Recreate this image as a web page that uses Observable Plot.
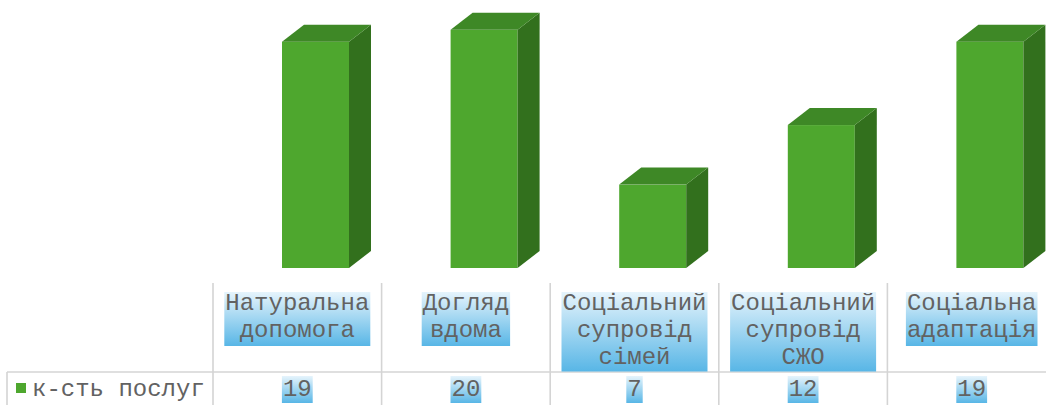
<!DOCTYPE html>
<html><head><meta charset="utf-8">
<script src="https://cdn.jsdelivr.net/npm/d3@7"></script>
<script src="https://cdn.jsdelivr.net/npm/@observablehq/plot@0.6"></script>
<style>html,body{margin:0;padding:0;background:#fff;} svg{display:block}</style>
</head><body><div id="chart"></div>
<script>
// ---- data ----
const categories = ["Натуральна\nдопомога", "Догляд\nвдома", "Соціальний\nсупровід\nсімей", "Соціальний\nсупровід\nСЖО", "Соціальна\nадаптація"];
const values = [19, 20, 7, 12, 19];
const seriesName = "к-сть послуг";

const data = categories.map((c, i) => ({cat: c, value: values[i]}));

// ---- style ----
const FONT = "'Liberation Mono', 'Courier New', monospace";
const FS = 24, CW = FS * 0.6, LH = 27;
const TXT = "#626262";
const GRID = "#d4d4d4";
const FRONT = "#4ea72e", TOP = "#3e8826", SIDE = "#32701d";
const INSET_L = 69, FRONT_W = 67, DEPTH_X = 22, DEPTH_Y = -17;

function bandwidth(scales) {
  return scales.x(data[1].cat) - scales.x(data[0].cat);
}

// 3D side and top faces
function facesRender(index, scales) {
  const g = d3.create("svg:g");
  for (const i of index) {
    const d = data[i];
    const x0 = scales.x(d.cat) + INSET_L, x1 = x0 + FRONT_W;
    const yt = scales.y(d.value), yb = scales.y(0);
    g.append("path")
      .attr("d", `M${x1},${yb}L${x1},${yt}L${x1 + DEPTH_X},${yt + DEPTH_Y}L${x1 + DEPTH_X},${yb + DEPTH_Y}Z`)
      .attr("fill", SIDE);
    g.append("path")
      .attr("d", `M${x0},${yt}L${x1},${yt}L${x1 + DEPTH_X},${yt + DEPTH_Y}L${x0 + DEPTH_X},${yt + DEPTH_Y}Z`)
      .attr("fill", TOP);
  }
  return g.node();
}

// data table below the bars
function tableRender(index, scales) {
  const g = d3.create("svg:g");
  const bw = bandwidth(scales);
  const defs = g.append("defs");
  const grad = defs.append("linearGradient").attr("id", "lblgrad").attr("x1", 0).attr("y1", 0).attr("x2", 0).attr("y2", 1);
  grad.append("stop").attr("offset", "0%").attr("stop-color", "#e6f4fc");
  grad.append("stop").attr("offset", "100%").attr("stop-color", "#58b6e6");

  // grid
  for (const i of index) {
    const xb = scales.x(data[i].cat);
    g.append("line").attr("x1", xb).attr("x2", xb).attr("y1", 283).attr("y2", 405)
      .attr("stroke", GRID).attr("stroke-width", 1.6);
  }
  g.append("line").attr("x1", 7).attr("x2", 1046).attr("y1", 372).attr("y2", 372).attr("stroke", GRID).attr("stroke-width", 1.6);
  g.append("line").attr("x1", 7).attr("x2", 7).attr("y1", 372).attr("y2", 405).attr("stroke", GRID).attr("stroke-width", 1.6);

  for (const i of index) {
    const d = data[i];
    const cx = scales.x(d.cat) + bw / 2;
    const lines = d.cat.split("\n");
    const maxc = d3.max(lines, l => l.length);
    const w = maxc * CW + 2, h = lines.length * 25.5 + 3;
    const top = 292;
    g.append("rect").attr("x", cx - w / 2).attr("y", top).attr("width", w).attr("height", h).attr("fill", "url(#lblgrad)");
    lines.forEach((l, j) => g.append("text")
      .attr("x", cx).attr("y", top + 18 + j * LH).attr("text-anchor", "middle")
      .attr("font-family", FONT).attr("font-size", FS).attr("fill", TXT).text(l));
    const vs = String(d.value);
    const vw = vs.length * CW + 2;
    g.append("rect").attr("x", cx - vw / 2).attr("y", 376).attr("width", vw).attr("height", 27).attr("fill", "url(#lblgrad)");
    g.append("text").attr("x", cx).attr("y", 396).attr("text-anchor", "middle")
      .attr("font-family", FONT).attr("font-size", FS).attr("fill", TXT).text(vs);
  }
  // legend key
  g.append("rect").attr("x", 16).attr("y", 383).attr("width", 10).attr("height", 10).attr("fill", FRONT);
  g.append("text").attr("x", 32).attr("y", 396).attr("text-anchor", "start")
    .attr("font-family", FONT).attr("font-size", FS).attr("fill", TXT).text(seriesName);
  return g.node();
}

const chart = Plot.plot({
  width: 1046,
  height: 405,
  margin: 0,
  style: {background: "#fff", overflow: "visible"},
  x: {type: "band", domain: categories, range: [213, 1056], padding: 0, round: false, axis: null},
  y: {domain: [0, 22.5], range: [268, 0], axis: null},
  marks: [
    Plot.barY(data, {x: "cat", y: "value", render: tableRender}),
    Plot.barY(data, {x: "cat", y: "value", fill: FRONT, insetLeft: INSET_L, insetRight: 168.6 - INSET_L - FRONT_W}),
    Plot.barY(data, {x: "cat", y: "value", render: facesRender})
  ]
});
document.getElementById("chart").appendChild(chart);
</script>
</body></html>
